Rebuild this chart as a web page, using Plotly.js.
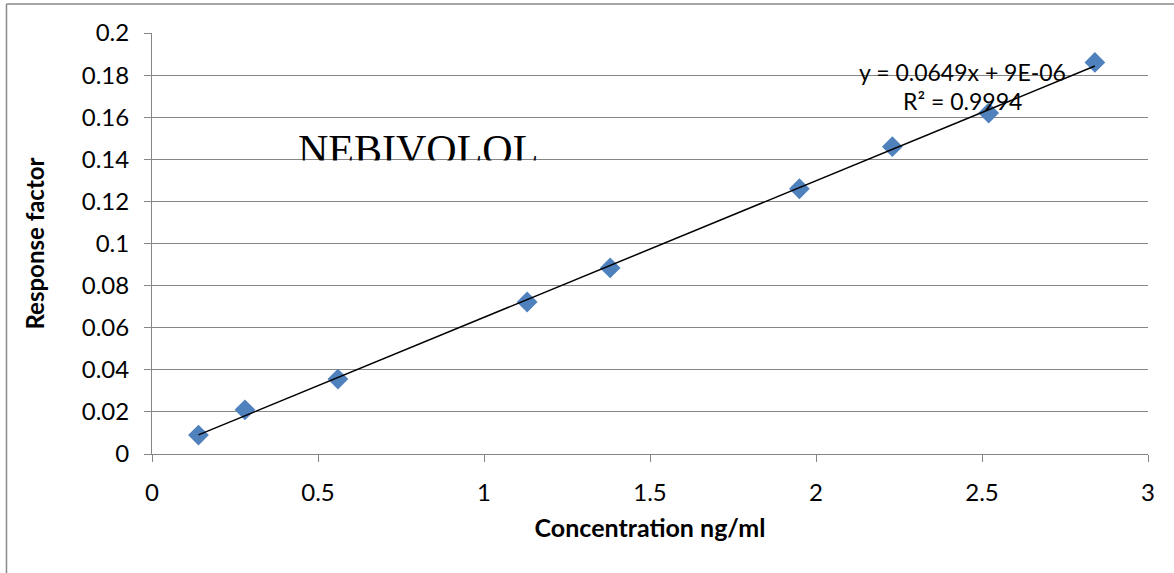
<!DOCTYPE html>
<html>
<head>
<meta charset="utf-8">
<script src="https://cdn.plot.ly/plotly-3.0.1.min.js"></script>
<style>
  html, body { margin: 0; padding: 0; background: #fff; }
  #chart { width: 1174px; height: 573px; }
</style>
</head>
<body>
<div id="chart"></div>
<script>
// Calibration data: concentration vs response factor
const concentration = [0.14, 0.28, 0.56, 1.13, 1.38, 1.95, 2.23, 2.52, 2.84];
const responseFactor = [0.009, 0.021, 0.0356, 0.0722, 0.0884, 0.126, 0.146, 0.162, 0.186];

// Linear fit reported on the chart
const fitSlope = 0.0649;
const fitIntercept = 0.000009;
const fitR2 = 0.9994;

const yTicks = [0, 0.02, 0.04, 0.06, 0.08, 0.1, 0.12, 0.14, 0.16, 0.18, 0.2];
const yTickText = ['0', '0.02', '0.04', '0.06', '0.08', '0.1', '0.12', '0.14', '0.16', '0.18', '0.2'];
const xTicks = [0, 0.5, 1, 1.5, 2, 2.5, 3];
const xTickText = ['0', '0.5', '1', '1.5', '2', '2.5', '3'];

const fitX = [Math.min(...concentration), Math.max(...concentration)];
const fitY = fitX.map(x => fitSlope * x + fitIntercept);

const gridColor = '#868686';
const font = 'Lato, "Open Sans", sans-serif';

const traces = [
  {
    x: concentration, y: responseFactor,
    type: 'scatter', mode: 'markers',
    marker: { symbol: 'diamond', size: 16, color: '#4F81BD', line: { width: 0 } },
    cliponaxis: false, hoverinfo: 'x+y'
  },
  {
    x: fitX, y: fitY,
    type: 'scatter', mode: 'lines',
    line: { color: '#000', width: 1.5 },
    hoverinfo: 'skip'
  }
];

const eqText = 'y = ' + fitSlope.toFixed(4) + 'x + 9E-06';
const r2Text = 'R² = ' + fitR2.toFixed(4);

const layout = {
  width: 1174, height: 573,
  margin: { l: 152, r: 26, t: 33, b: 119 },
  paper_bgcolor: '#fff', plot_bgcolor: '#fff',
  showlegend: false,
  font: { family: font, color: '#000', size: 23 },
  xaxis: {
    range: [0, 3], tickvals: xTicks, ticktext: xTickText,
    showgrid: false, zeroline: false,
    showline: true, linecolor: gridColor, linewidth: 1,
    ticks: 'outside', ticklen: 7, tickcolor: gridColor, tickwidth: 1,
    ticklabelstandoff: 10,
    tickfont: { family: font, size: 24, color: '#000' },
    title: { text: 'Concentration ng/ml', font: { family: font, size: 25, color: '#000', weight: 'bold' }, standoff: 14 },
    automargin: false
  },
  yaxis: {
    range: [0, 0.2], tickvals: yTicks, ticktext: yTickText,
    showgrid: true, gridcolor: gridColor, gridwidth: 1,
    zeroline: false,
    showline: true, linecolor: gridColor, linewidth: 1,
    ticks: 'outside', ticklen: 7, tickcolor: gridColor, tickwidth: 1,
    ticklabelstandoff: 10,
    tickfont: { family: font, size: 24, color: '#000' },
    title: { text: 'Response factor', font: { family: font, size: 24, color: '#000', weight: 'bold' }, standoff: 30 },
    automargin: false
  },
  shapes: [
    // outer chart frame (top and left edges)
    { type: 'line', xref: 'paper', yref: 'paper', x0: -0.1461, x1: 1.03, y0: 1.0689, y1: 1.0689,
      line: { color: '#8a8a8a', width: 1.5 } },
    { type: 'line', xref: 'paper', yref: 'paper', x0: -0.1461, x1: -0.1461, y0: 1.0689, y1: -0.3,
      line: { color: '#8a8a8a', width: 1.5 } }
  ],
  annotations: [
    { x: 2.44, y: 0.1815, xref: 'x', yref: 'y', text: eqText, showarrow: false,
      font: { family: font, size: 23, color: '#000' }, xanchor: 'center', yanchor: 'middle' },
    { x: 2.44, y: 0.1677, xref: 'x', yref: 'y', text: r2Text, showarrow: false,
      font: { family: font, size: 23, color: '#000' }, xanchor: 'center', yanchor: 'middle' },
    { x: 0.435, y: 0.1325, xref: 'x', yref: 'y', text: 'NEBIVOLOL', showarrow: false,
      font: { family: '"Liberation Serif", "Times New Roman", serif', size: 42, color: '#000' },
      xanchor: 'left', yanchor: 'bottom' },
    // white band trimming the lower part of the title text below the 0.14 gridline
    { x: 0.42, y: 0.1396, xref: 'x', yref: 'y', text: ' ', showarrow: false,
      xanchor: 'left', yanchor: 'top', width: 280, height: 30, bgcolor: '#fff', borderpad: 0 }
  ]
};

Plotly.newPlot('chart', traces, layout, { displayModeBar: false, staticPlot: true });
</script>
</body>
</html>
